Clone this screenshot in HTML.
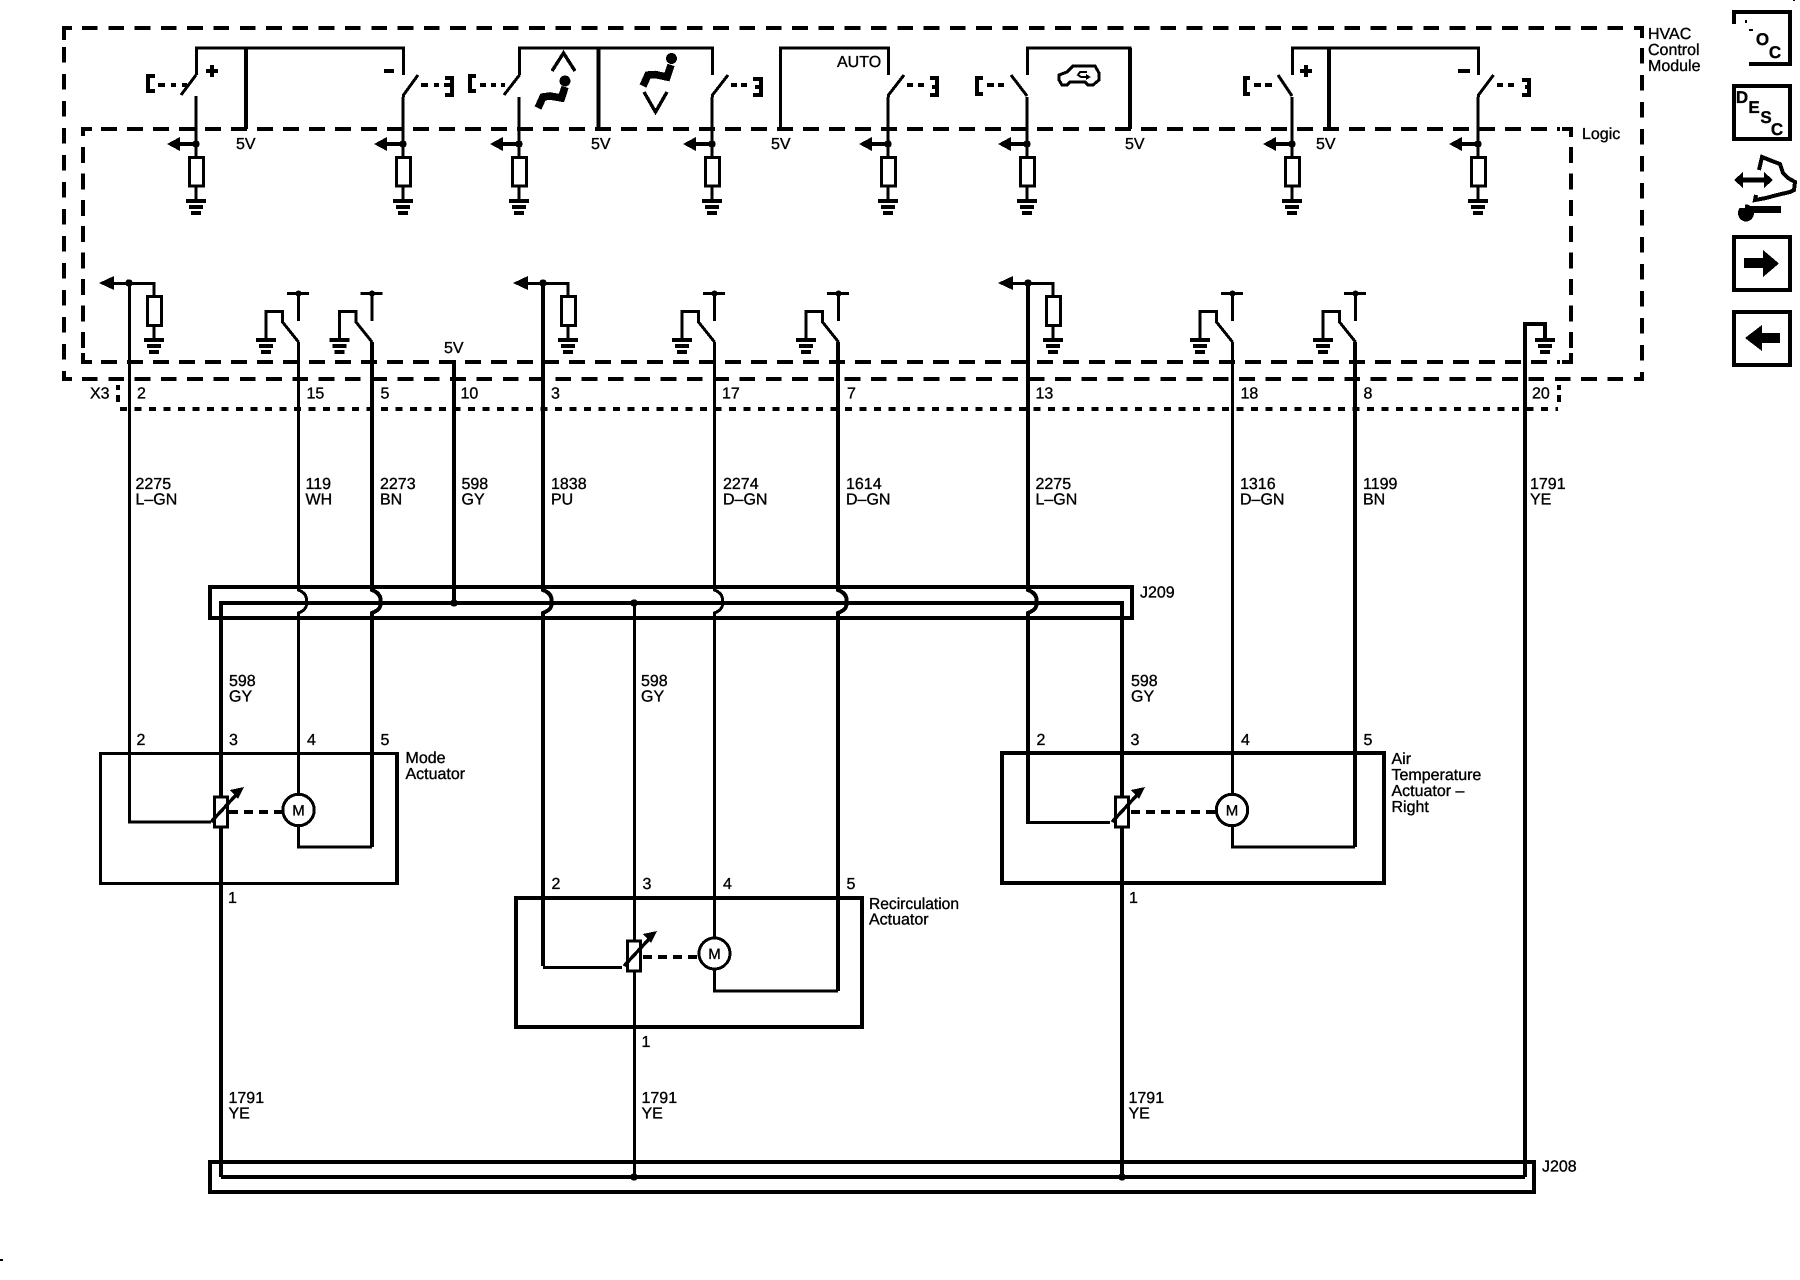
<!DOCTYPE html>
<html><head><meta charset="utf-8"><title>HVAC Control Module</title>
<style>
html,body{margin:0;padding:0;background:#fff;width:1800px;height:1280px;overflow:hidden}
svg{display:block}
text{font-family:"Liberation Sans",sans-serif;font-size:16px;fill:#000;stroke:#000;stroke-width:.35;text-rendering:geometricPrecision}
.w{fill:none;stroke:#000;stroke-linejoin:miter}
</style></head><body>
<svg xmlns="http://www.w3.org/2000/svg" width="1800" height="1280" viewBox="0 0 1800 1280" shape-rendering="crispEdges">
<defs>
<g id="gnd"><rect x="-10" y="-2" width="20" height="4"/><rect x="-7" y="4" width="14" height="4"/><rect x="-5" y="10" width="10" height="4"/></g>
<g id="col">
<path class="w" stroke-width="3" d="M0,97V157M0,186V200"/>
<path class="w" stroke-width="4" d="M-16,144H0"/>
<polygon points="-29,144 -16,137 -16,151"/><circle cx="0" cy="144" r="3.7"/>
<rect class="w" stroke-width="3" x="-6.5" y="157.5" width="14" height="28.5"/>
<use href="#gnd" y="201"/>
</g>
<g id="jct">
<path class="w" stroke-width="3" d="M-15,283.5H25V296M25,326V340"/>
<polygon points="-30,283 -15,276 -15,290"/><circle cx="0" cy="283" r="3.7"/>
<rect class="w" stroke-width="3" x="18.5" y="296.5" width="14" height="29"/>
<use href="#gnd" x="25" y="340"/>
</g>
<g id="rel">
<path class="w" stroke-width="3" d="M-11,293.5H11M.5,293V321"/>
<circle cx=".5" cy="293.5" r="3"/>
<path class="w" stroke-width="3" d="M.5,342L-15.5,322V311.5H-32V338"/>
<use href="#gnd" x="-32" y="340"/>
</g>
<g id="pot">
<rect x="-6.5" y="-15" width="13" height="30" fill="#fff" stroke="#000" stroke-width="3.4"/>
<path class="w" stroke-width="3.4" d="M-10,10L16,-18"/>
<polygon points="23,-25 9,-22 17,-13"/>
</g>
</defs>

<!-- Outer module dashed -->
<path class="w" stroke-width="4" d="M64,40V28H72M64,372V379H72M1634,28H1642V38M1642,372V379H1634"/>
<path class="w" stroke-width="4" stroke-dasharray="15.7 10.6" d="M82,28H1628M82,379H1628"/>
<path class="w" stroke-width="4" stroke-dasharray="15.5 11.5" d="M64,47V372M1642,48V372"/>
<!-- Logic dashed -->
<path class="w" stroke-width="4" d="M83,136V129H92M83,353V362H92M1562,129H1571V137M1571,353V362H1562"/>
<path class="w" stroke-width="4" stroke-dasharray="16 10" d="M101,129H1560M101,362H1560"/>
<path class="w" stroke-width="4" stroke-dasharray="16 10.4" d="M83,147V350M1571,147V350"/>
<!-- X3 dashed -->
<path class="w" stroke-width="4" stroke-dasharray="7 7.5" d="M120,409H1558"/>
<path class="w" stroke-width="4" d="M118,385V390M118,395V402M1559,385V390M1559,395V402"/>

<!-- Top switches -->
<path class="w" stroke-width="3" d="M196,97V96M196.5,75V48H403.5V75M403.5,97V95L418,75M196,75L181,95"/>
<path class="w" stroke-width="4" d="M246,48V129"/>
<path class="w" stroke-width="4" d="M155,76H148V91H155M158,85H165M171,85H176M182,85H187M421,85H428M434,85H439M444,85H452V78H445M452,85V95H445"/>
<rect x="206" y="69" width="12" height="4"/><rect x="210" y="65" width="4" height="12"/>
<rect x="384" y="69" width="10" height="4"/>
<use href="#col" x="196"/><use href="#col" x="403"/>

<path class="w" stroke-width="3" d="M519.5,75V48H712.5V75M519.5,75L504,95M712.5,97V95L728,75"/>
<path class="w" stroke-width="4" d="M598.5,48V129"/>
<path class="w" stroke-width="4" d="M476,76H470V91H476M480,85H486M491,85H496M501,85H505M731,85H737M741,85H747M753,79H761V95H753M761,87H755"/>
<use href="#col" x="519"/><use href="#col" x="712"/>
<!-- seats -->
<path class="w" stroke-width="3.4" d="M552,71L563.5,53L575,71M644,92L655.5,112L667,92"/>
<circle cx="565" cy="81" r="5.5"/><circle cx="671.5" cy="58.5" r="5.5"/>
<path class="w" stroke-width="7.5" d="M565,87L561.5,98L550,96L543,97L538,108M671,65L667,77L655,74.5L648,75L643,86"/>

<!-- AUTO -->
<path class="w" stroke-width="3" d="M780.5,129V48H888.5V75M888.5,97V95L904,75"/>
<path class="w" stroke-width="4" d="M907,85H913M918,85H924M930,78H937V95H930M937,87H932"/>
<use href="#col" x="888"/>

<!-- Recirc car -->
<path class="w" stroke-width="3" d="M1027.5,75V48H1130V129M1027,96L1011,75"/>
<path class="w" stroke-width="4" d="M1130,48V129M983,78H977V94H983M987,85H994M998,85H1004"/>
<use href="#col" x="1027"/>
<path class="w" stroke-width="3" d="M1059,80V75L1067,72L1073,66H1095L1099,73V80L1093,85H1088L1085,82H1070L1067,85H1062Z"/>
<path class="w" stroke-width="2" d="M1087,72H1080L1078,75L1081,77H1088"/>
<polygon points="1091,77 1086,74 1086,80"/>

<!-- Right pair -->
<path class="w" stroke-width="3" d="M1292.5,75V48H1478.5V75M1292,96L1278,75M1478.5,97V95L1493.5,75"/>
<path class="w" stroke-width="4" d="M1329,48V129"/>
<path class="w" stroke-width="4" d="M1250,78H1245V94H1250M1254,85H1261M1265,85H1272M1497,85H1503M1508,85H1514M1522,80H1529V95H1522M1529,87H1525"/>
<rect x="1300" y="69" width="12" height="4"/><rect x="1304" y="65" width="4" height="12"/>
<rect x="1458" y="69" width="12" height="4"/>
<use href="#col" x="1292"/><use href="#col" x="1478"/>

<!-- Connector boxes -->
<rect class="w" stroke-width="4" x="210" y="587" width="922" height="31"/>
<rect class="w" stroke-width="4" x="210" y="1162" width="1324" height="30"/>

<!-- Actuators -->
<rect class="w" stroke-width="3" x="100.5" y="753.5" width="297" height="130"/>
<path class="w" stroke-width="4" d="M397,753V884"/>
<rect class="w" stroke-width="4" x="516" y="898" width="346" height="129"/>
<rect class="w" stroke-width="4" x="1002" y="753" width="382" height="130"/>

<!-- Buses -->
<path class="w" stroke-width="4" d="M221,1177V603H1122V1177M221,1177H1525"/>
<path class="w" stroke-width="3" d="M634.5,603V1177"/>
<circle cx="634" cy="603" r="3.7"/><circle cx="634" cy="1177" r="3.7"/><circle cx="1122" cy="1177" r="3.7"/>

<!-- Wires -->
<path class="w" stroke-width="3" d="M129.5,283V822H211"/>
<path class="w" stroke-width="3" d="M298.5,342V590C306,593 307,598 306.5,602C307,606 306,610 298.5,613V795M298.5,826V847H372"/>
<path class="w" stroke-width="4" d="M372,342V590C380,593 381,598 380.5,602C381,606 380,610 372,613V847"/>
<path class="w" stroke-width="4" d="M442,362H454V603"/><circle cx="454" cy="603" r="3.7"/>
<path class="w" stroke-width="4" d="M543,283V590C551,593 552,598 551.5,602C552,606 551,610 543,613V966"/>
<path class="w" stroke-width="3" d="M543,967.5H622"/>
<path class="w" stroke-width="3" d="M714.5,342V590C722,593 723,598 722.5,602C723,606 722,610 714.5,613V938M714.5,969V991H838"/>
<path class="w" stroke-width="4" d="M838,342V590C846,593 847,598 846.5,602C847,606 846,610 838,613V991"/>
<path class="w" stroke-width="4" d="M1028,283V590C1036,593 1037,598 1036.5,602C1037,606 1036,610 1028,613V821"/>
<path class="w" stroke-width="3" d="M1026,822.5H1110"/>
<path class="w" stroke-width="3" d="M1232.5,342V795M1232.5,826V847H1355"/>
<path class="w" stroke-width="4" d="M1355,342V847"/>
<path class="w" stroke-width="4" d="M1545,338V324H1525V1177"/>

<!-- Logic symbols bottom row -->
<use href="#jct" x="129"/><use href="#jct" x="543"/><use href="#jct" x="1028"/>
<use href="#rel" x="298"/><use href="#rel" x="371.5"/><use href="#rel" x="714"/><use href="#rel" x="838"/><use href="#rel" x="1232"/><use href="#rel" x="1355"/>
<use href="#gnd" x="1545" y="340"/>

<!-- Pots and motors -->
<use href="#pot" x="221" y="812"/><use href="#pot" x="634" y="956"/><use href="#pot" x="1122" y="812"/>
<path class="w" stroke-width="4" stroke-dasharray="9 6" d="M229,812H283"/>
<path class="w" stroke-width="4" stroke-dasharray="9 6" d="M643,957H699"/>
<path class="w" stroke-width="4" stroke-dasharray="9 6" d="M1131,812H1216"/>
<circle cx="298.5" cy="810" r="15.7" fill="#fff" stroke="#000" stroke-width="3"/>
<circle cx="714.5" cy="953.5" r="15.5" fill="#fff" stroke="#000" stroke-width="3"/>
<circle cx="1232" cy="810" r="15.7" fill="#fff" stroke="#000" stroke-width="3"/>
<text x="298.5" y="815.5" text-anchor="middle" style="font-size:15px">M</text>
<text x="714.5" y="959" text-anchor="middle" style="font-size:15px">M</text>
<text x="1232" y="815.5" text-anchor="middle" style="font-size:15px">M</text>

<!-- Side icons -->
<path class="w" stroke-width="4" d="M1734,24V12H1790V64H1749"/>
<rect x="1745" y="20" width="2" height="3"/><rect x="1749" y="29" width="4" height="2"/>
<rect class="w" stroke-width="4" x="1734" y="86" width="56" height="53"/>
<rect class="w" stroke-width="4" x="1734" y="237" width="56" height="53"/>
<rect class="w" stroke-width="4" x="1734" y="312" width="56" height="53"/>
<polygon points="1744,258 1763,258 1763,250 1779,263.5 1763,277 1763,268 1744,268"/>
<polygon points="1745,338 1762,325 1762,333 1780,333 1780,343 1762,343 1762,351"/>
<path class="w" stroke-width="5" d="M1740,180H1768"/>
<polygon points="1734,180 1743,172 1743,188"/><polygon points="1773,180 1764,172 1764,188"/>
<path class="w" stroke-width="4" d="M1759,170L1762,157L1772,161L1780,164L1783,173L1788,178L1795,182L1794,190L1790,192L1777,195L1766,198L1755,200L1756,195"/>
<path class="w" stroke-width="7" d="M1750,209.5H1781"/>
<ellipse cx="1746" cy="213" rx="8" ry="8.5"/><rect x="1737" y="203" width="8" height="5" fill="#fff"/>
<text x="1762.5" y="45" text-anchor="middle" style="font-size:17px;font-weight:bold">O</text>
<text x="1775" y="58" text-anchor="middle" style="font-size:17px;font-weight:bold">C</text>
<text x="1742" y="103" text-anchor="middle" style="font-size:17px;font-weight:bold">D</text>
<text x="1754" y="113" text-anchor="middle" style="font-size:17px;font-weight:bold">E</text>
<text x="1766" y="123" text-anchor="middle" style="font-size:17px;font-weight:bold">S</text>
<text x="1777" y="135" text-anchor="middle" style="font-size:17px;font-weight:bold">C</text>
<rect x="1793" y="0" width="2" height="1"/><rect x="0" y="1259" width="3" height="2"/>

<!-- Labels -->
<text x="837" y="67">AUTO</text>
<text x="236" y="149">5V</text><text x="591" y="149">5V</text><text x="771" y="149">5V</text><text x="1125" y="149">5V</text><text x="1316" y="149">5V</text>
<text x="444" y="353">5V</text>
<text x="1648" y="39">HVAC</text><text x="1648" y="55">Control</text><text x="1648" y="71">Module</text>
<text x="1582" y="139">Logic</text>
<text x="90" y="398.5">X3</text>
<text x="137" y="398.5">2</text><text x="306.5" y="398.5">15</text><text x="380.5" y="398.5">5</text><text x="460.5" y="398.5">10</text><text x="551" y="398.5">3</text><text x="722" y="398.5">17</text><text x="847" y="398.5">7</text><text x="1035.5" y="398.5">13</text><text x="1240.5" y="398.5">18</text><text x="1363.5" y="398.5">8</text><text x="1532" y="398.5">20</text>

<text x="135.5" y="489">2275</text><text x="135.5" y="504.5">L–GN</text>
<text x="305.5" y="489">119</text><text x="305.5" y="504.5">WH</text>
<text x="380" y="489">2273</text><text x="380" y="504.5">BN</text>
<text x="461.5" y="489">598</text><text x="461.5" y="504.5">GY</text>
<text x="551" y="489">1838</text><text x="551" y="504.5">PU</text>
<text x="723" y="489">2274</text><text x="723" y="504.5">D–GN</text>
<text x="846" y="489">1614</text><text x="846" y="504.5">D–GN</text>
<text x="1035.5" y="489">2275</text><text x="1035.5" y="504.5">L–GN</text>
<text x="1240" y="489">1316</text><text x="1240" y="504.5">D–GN</text>
<text x="1363" y="489">1199</text><text x="1363" y="504.5">BN</text>
<text x="1530" y="489">1791</text><text x="1530" y="504.5">YE</text>

<text x="1140" y="597.5">J209</text>
<text x="1542" y="1171.5">J208</text>

<text x="229" y="686">598</text><text x="229" y="701.5">GY</text>
<text x="641" y="686">598</text><text x="641" y="701.5">GY</text>
<text x="1131" y="686">598</text><text x="1131" y="701.5">GY</text>

<text x="136.5" y="745">2</text><text x="229" y="745">3</text><text x="307" y="745">4</text><text x="380.5" y="745">5</text><text x="228" y="903">1</text>
<text x="551.5" y="889">2</text><text x="642.5" y="889">3</text><text x="723" y="889">4</text><text x="846.5" y="889">5</text><text x="641.5" y="1047">1</text>
<text x="1036.5" y="745">2</text><text x="1130.5" y="745">3</text><text x="1241" y="745">4</text><text x="1363.5" y="745">5</text><text x="1129" y="903">1</text>

<text x="405.5" y="763">Mode</text><text x="405.5" y="779">Actuator</text>
<text x="869" y="909" textLength="90" lengthAdjust="spacingAndGlyphs">Recirculation</text><text x="869" y="924.5">Actuator</text>
<text x="1391.5" y="764">Air</text><text x="1391.5" y="780">Temperature</text><text x="1391.5" y="796">Actuator –</text><text x="1391.5" y="812">Right</text>

<text x="228.5" y="1103">1791</text><text x="228.5" y="1118.5">YE</text>
<text x="641.5" y="1103">1791</text><text x="641.5" y="1118.5">YE</text>
<text x="1128.5" y="1103">1791</text><text x="1128.5" y="1118.5">YE</text>
</svg>
</body></html>
